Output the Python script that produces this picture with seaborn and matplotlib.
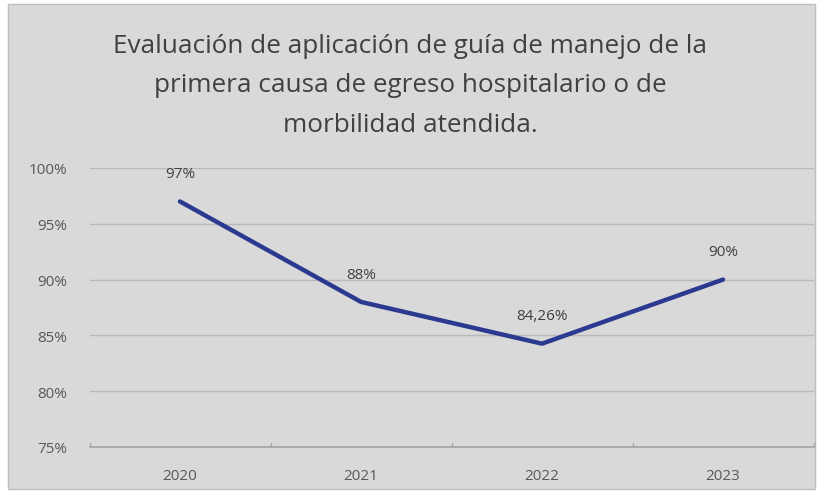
import matplotlib
matplotlib.use("Agg")
import matplotlib.pyplot as plt
import matplotlib.patches as mpatches
from matplotlib.ticker import FuncFormatter
import pandas as pd
import seaborn as sns

years = ["2020", "2021", "2022", "2023"]
values = [97.0, 88.0, 84.26, 90.0]
labels = ["97%", "88%", "84,26%", "90%"]
title = ("Evaluación de aplicación de guía de manejo de la\n"
         "primera causa de egreso hospitalario o de\n"
         "morbilidad atendida.")

bg = "#d9d9d9"
sns.set_theme(style="white")
plt.rcParams["font.family"] = ["Open Sans", "DejaVu Sans"]

df = pd.DataFrame({"year": years, "value": values})

fig = plt.figure(figsize=(8.25, 5.02), dpi=100, facecolor="white")
fig.patches.append(mpatches.Rectangle((8 / 825, 1 - 490 / 502), 807 / 825, 485 / 502,
                                      transform=fig.transFigure, facecolor=bg,
                                      edgecolor="#bfbfbf", lw=1, zorder=-1))
ax = fig.add_axes([89.5 / 825, 1 - 448 / 502, 724 / 825, 279 / 502])
ax.set_facecolor(bg)

sns.lineplot(data=df, x="year", y="value", ax=ax, color="#2b3990", lw=3.2,
             sort=False)
ax.set_xlim(-0.5, 3.5)
ax.set_ylim(75, 100)
ax.set_yticks([75, 80, 85, 90, 95, 100])
ax.yaxis.set_major_formatter(FuncFormatter(lambda v, p: f"{v:.0f}%"))
ax.grid(axis="y", color="#b8b8b8", lw=1)
ax.set_axisbelow(True)
for s in ["top", "right", "left"]:
    ax.spines[s].set_visible(False)
ax.spines["bottom"].set_color("#a6a6a6")
ax.set_xlabel("")
ax.set_ylabel("")
ax.tick_params(axis="y", length=0, pad=16, labelsize=11, labelcolor="#595959")
ax.tick_params(axis="x", length=0, pad=15, labelsize=11, labelcolor="#595959")
ax.set_xticks(range(4), years)
for b in [-0.5, 0.5, 1.5, 2.5, 3.5]:
    ax.plot([b, b], [75, 75.4], color="#a6a6a6", lw=1, clip_on=False)

for i, (v, t) in enumerate(zip(values, labels)):
    ax.annotate(t, (i, v), xytext=(0, 20), textcoords="offset points",
                ha="center", va="center", fontsize=11, color="#404040")

fig.text(410 / 825, 1 - 86 / 502, title, ha="center", va="center",
         fontsize=18.8, color="#404040", linespacing=1.75)

fig.savefig("out.png", dpi=100, facecolor="white")
